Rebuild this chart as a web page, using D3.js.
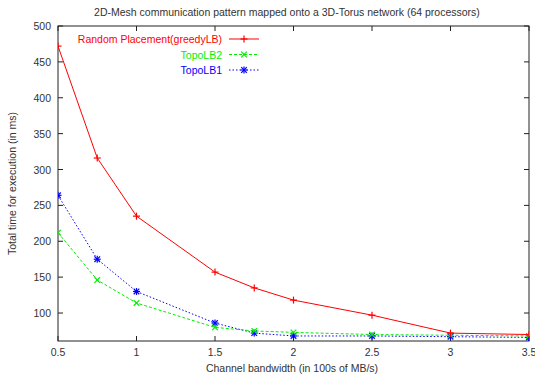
<!DOCTYPE html>
<html>
<head>
<meta charset="utf-8">
<script src="https://cdn.jsdelivr.net/npm/d3@7"></script>
<style>
  body { margin: 0; background: #fff; }
  svg { font-family: "Liberation Sans", Arial, sans-serif; }
</style>
</head>
<body>
<div id="chart"></div>
<script>
const bandwidth = [0.5, 0.75, 1, 1.5, 1.75, 2, 2.5, 3, 3.5];
const randomPlacement = [472, 316, 235, 157, 135, 118, 97, 72, 70];
const topoLB2 = [212, 146, 114, 80, 75, 73, 70, 69, 68];
const topoLB1 = [264, 175, 130, 86, 72, 68, 68, 67, 66];
const xTicks = [0.5, 1, 1.5, 2, 2.5, 3, 3.5];
const yTicks = [100, 150, 200, 250, 300, 350, 400, 450, 500];

const series = [
  {name: 'Random Placement(greedyLB)', values: randomPlacement, color: '#ff0000', dash: null, marker: 'plus'},
  {name: 'TopoLB2', values: topoLB2, color: '#00ee00', dash: '3,2', marker: 'cross'},
  {name: 'TopoLB1', values: topoLB1, color: '#0000ff', dash: '1.5,2', marker: 'star'},
];

const width = 535, height = 377;
const margin = {top: 26, right: 6, bottom: 36, left: 58};

const svg = d3.select('#chart').append('svg')
  .attr('width', width).attr('height', height);

const x = d3.scaleLinear().domain([0.5, 3.5]).range([margin.left, width - margin.right]);
const y = d3.scaleLinear().domain([61, 500]).range([height - margin.bottom, margin.top]);

const textColor = '#333';

// 标题
svg.append('text')
  .attr('x', 287).attr('y', 16)
  .attr('text-anchor', 'middle')
  .attr('font-size', 10.5).attr('fill', textColor)
  .text('2D-Mesh communication pattern mapped onto a 3D-Torus network (64 processors)');

// 坐标轴（刻度向内，四边镜像）
const tickLen = 5;
const ax = svg.append('g');
yTicks.forEach(v => {
  ax.append('line').attr('x1', x.range()[0]).attr('x2', x.range()[0] + tickLen)
    .attr('y1', y(v)).attr('y2', y(v)).attr('stroke', '#222');
  ax.append('line').attr('x1', x.range()[1]).attr('x2', x.range()[1] - tickLen)
    .attr('y1', y(v)).attr('y2', y(v)).attr('stroke', '#222');
  ax.append('text').attr('x', x.range()[0] - 7).attr('y', y(v) + 4)
    .attr('text-anchor', 'end').attr('font-size', 10.5).attr('fill', textColor)
    .text(v);
});
xTicks.forEach(v => {
  ax.append('line').attr('x1', x(v)).attr('x2', x(v))
    .attr('y1', y.range()[0]).attr('y2', y.range()[0] - tickLen).attr('stroke', '#222');
  ax.append('line').attr('x1', x(v)).attr('x2', x(v))
    .attr('y1', y.range()[1]).attr('y2', y.range()[1] + tickLen).attr('stroke', '#222');
  ax.append('text').attr('x', x(v)).attr('y', y.range()[0] + 15)
    .attr('text-anchor', 'middle').attr('font-size', 10.5).attr('fill', textColor)
    .text(v);
});
ax.append('rect')
  .attr('x', x.range()[0]).attr('y', y.range()[1])
  .attr('width', x.range()[1] - x.range()[0]).attr('height', y.range()[0] - y.range()[1])
  .attr('fill', 'none').attr('stroke', '#222');

// 轴标题
svg.append('text')
  .attr('transform', `translate(16, ${(y.range()[0] + y.range()[1]) / 2}) rotate(-90)`)
  .attr('text-anchor', 'middle').attr('font-size', 10.5).attr('fill', textColor)
  .text('Total time for execution (in ms)');
svg.append('text')
  .attr('x', 292).attr('y', 372)
  .attr('text-anchor', 'middle').attr('font-size', 10.5).attr('fill', textColor)
  .text('Channel bandwidth (in 100s of MB/s)');

// 裁剪区
svg.append('clipPath').attr('id', 'plot-clip')
  .append('rect')
  .attr('x', x.range()[0]).attr('y', y.range()[1])
  .attr('width', x.range()[1] - x.range()[0]).attr('height', y.range()[0] - y.range()[1]);

function drawMarker(g, type, cx, cy, color) {
  const s = 3.5;
  const seg = (x1, y1, x2, y2) => g.append('line')
    .attr('x1', cx + x1).attr('y1', cy + y1).attr('x2', cx + x2).attr('y2', cy + y2)
    .attr('stroke', color).attr('stroke-width', 1.2);
  if (type === 'plus' || type === 'star') {
    seg(-s, 0, s, 0); seg(0, -s, 0, s);
  }
  if (type === 'cross' || type === 'star') {
    const d = s * 0.8;
    seg(-d, -d, d, d); seg(-d, d, d, -d);
  }
}

const plot = svg.append('g').attr('clip-path', 'url(#plot-clip)');
const line = d3.line().x(d => x(d[0])).y(d => y(d[1]));

series.slice().reverse().forEach(s => {
  const pts = bandwidth.map((b, i) => [b, s.values[i]]);
  plot.append('path')
    .datum(pts)
    .attr('d', line)
    .attr('fill', 'none')
    .attr('stroke', s.color)
    .attr('stroke-width', 1)
    .attr('stroke-dasharray', s.dash);
  const mg = plot.append('g');
  pts.forEach(p => drawMarker(mg, s.marker, x(p[0]), y(p[1]), s.color));
});

// 图例
const legend = svg.append('g');
series.forEach((s, i) => {
  const ly = 39 + i * 15.5;
  legend.append('text')
    .attr('x', 222).attr('y', ly + 4)
    .attr('text-anchor', 'end').attr('font-size', 10.5).attr('fill', s.color)
    .text(s.name);
  legend.append('line')
    .attr('x1', 229).attr('x2', 259).attr('y1', ly).attr('y2', ly)
    .attr('stroke', s.color).attr('stroke-dasharray', s.dash);
  drawMarker(legend, s.marker, 244, ly, s.color);
});
</script>
</body>
</html>
